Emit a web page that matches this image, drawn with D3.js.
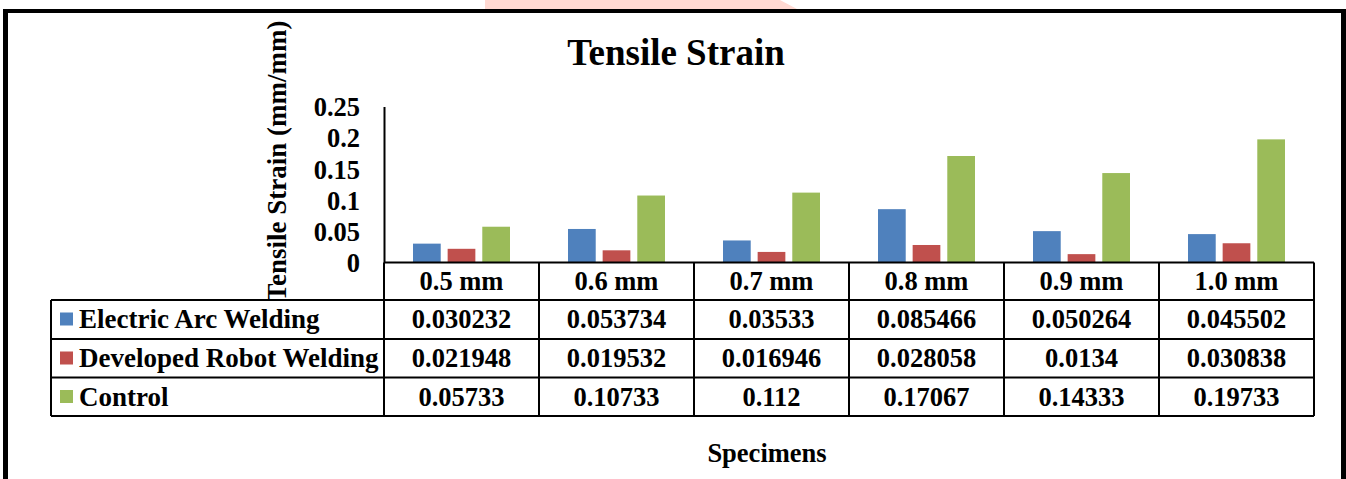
<!DOCTYPE html>
<html>
<head>
<meta charset="utf-8">
<script src="https://cdn.jsdelivr.net/npm/d3@7"></script>
<style>
  body { margin: 0; background: #fff; }
  text { font-family: "Liberation Serif", "Times New Roman", serif; font-weight: bold; fill: #000; }
</style>
</head>
<body>
<div id="chart"></div>
<script>
////////////////////////////////////////////////////////////////////////////////////////
// Data
var categories = ["0.5 mm", "0.6 mm", "0.7 mm", "0.8 mm", "0.9 mm", "1.0 mm"];
var seriesNames = ["Electric Arc Welding", "Developed Robot Welding", "Control"];
var arcValues = [0.030232, 0.053734, 0.03533, 0.085466, 0.050264, 0.045502];
var robotValues = [0.021948, 0.019532, 0.016946, 0.028058, 0.0134, 0.030838];
var controlValues = [0.05733, 0.10733, 0.112, 0.17067, 0.14333, 0.19733];
var tickValues = [0, 0.05, 0.1, 0.15, 0.2, 0.25];
var colors = ["#4f81bd", "#c0504d", "#9bbb59"];

var seriesValues = [arcValues, robotValues, controlValues];

////////////////////////////////////////////////////////////////////////////////////////
// Canvas
var svgWidth = 1346;
var svgHeight = 479;

var svg = d3.select("#chart").append("svg")
    .attr("width", svgWidth)
    .attr("height", svgHeight);

// watermark blob peeking over the top frame
svg.append("path")
    .attr("d", "M485,0 L780,0 L797,9 L485,9 Z")
    .attr("fill", "#ffd9d2");

// outer frame (bottom edge falls off the picture)
svg.append("line").attr("x1", 3).attr("x2", 1346).attr("y1", 11).attr("y2", 11)
    .attr("stroke", "#000").attr("stroke-width", 4);
svg.append("line").attr("x1", 5.5).attr("x2", 5.5).attr("y1", 9).attr("y2", 479)
    .attr("stroke", "#000").attr("stroke-width", 5);
svg.append("line").attr("x1", 1343.5).attr("x2", 1343.5).attr("y1", 9).attr("y2", 479)
    .attr("stroke", "#000").attr("stroke-width", 5);

////////////////////////////////////////////////////////////////////////////////////////
// Scales
var plotLeft = 384, plotRight = 1314;
var plotTop = 106.5, plotBottom = 262.5;

var x = d3.scaleBand().domain(categories).range([plotLeft, plotRight]);
var x1 = d3.scaleBand().domain(seriesNames)
    .range([29, x.bandwidth() - 29])
    .paddingInner(0.2);
var y = d3.scaleLinear().domain([0, 0.25]).range([plotBottom, plotTop]);

// Title
svg.append("text")
    .attr("x", 676).attr("y", 65)
    .attr("text-anchor", "middle")
    .style("font-size", "37px")
    .text("Tensile Strain");

// Y axis
var yAxis = svg.append("g")
    .attr("transform", "translate(" + plotLeft + ",0)")
    .call(d3.axisLeft(y).tickValues(tickValues).tickSize(0).tickPadding(24)
        .tickFormat(function(d){ return String(+d.toFixed(2)); }));
yAxis.select(".domain").attr("stroke", "#000").attr("stroke-width", 2);
yAxis.selectAll("text")
    .style("font-size", "26.5px")
    .attr("font-family", null)
    .attr("dy", "0.35em");

svg.append("text")
    .attr("transform", "translate(286,161) rotate(-90)")
    .attr("text-anchor", "middle")
    .style("font-size", "27px")
    .text("Tensile Strain (mm/mm)");

// Bars
var groups = svg.selectAll(".cat")
    .data(categories)
    .enter().append("g")
    .attr("class", "cat")
    .attr("transform", function(d){ return "translate(" + x(d) + ",0)"; });

groups.selectAll("rect")
    .data(function(d, i){ return seriesNames.map(function(s, j){ return {s: s, v: seriesValues[j][i], c: colors[j]}; }); })
    .enter().append("rect")
    .attr("x", function(d){ return x1(d.s); })
    .attr("width", x1.bandwidth())
    .attr("y", function(d){ return y(d.v); })
    .attr("height", function(d){ return y(0) - y(d.v); })
    .attr("fill", function(d){ return d.c; });

////////////////////////////////////////////////////////////////////////////////////////
// Data table
var tableLeft = 51;
var rowTops = [plotBottom, 300, 339, 377.5, 416];
var lineStyle = function(sel){ sel.attr("stroke", "#000").attr("stroke-width", 2); };

// horizontal lines
rowTops.forEach(function(ry, i){
    svg.append("line")
        .attr("x1", i == 0 ? plotLeft : tableLeft).attr("x2", plotRight)
        .attr("y1", ry).attr("y2", ry)
        .call(lineStyle);
});
// vertical lines
svg.append("line").attr("x1", tableLeft).attr("x2", tableLeft)
    .attr("y1", rowTops[1]).attr("y2", rowTops[4]).call(lineStyle);
categories.concat(["end"]).forEach(function(c, i){
    var vx = i < categories.length ? x(c) : plotRight;
    svg.append("line").attr("x1", vx).attr("x2", vx)
        .attr("y1", rowTops[0]).attr("y2", rowTops[4]).call(lineStyle);
});

// header labels
svg.selectAll(".catLabel")
    .data(categories)
    .enter().append("text")
    .attr("class", "catLabel")
    .attr("x", function(d){ return x(d) + x.bandwidth() / 2; })
    .attr("y", 290)
    .attr("text-anchor", "middle")
    .style("font-size", "26.5px")
    .text(function(d){ return d; });

// series rows
seriesNames.forEach(function(s, j){
    var top = rowTops[j + 1];
    var base = top + 28;
    svg.append("rect")
        .attr("x", 60).attr("y", top + 12.5)
        .attr("width", 13).attr("height", 13)
        .attr("fill", colors[j]);
    svg.append("text")
        .attr("x", 79).attr("y", base)
        .style("font-size", "27px")
        .text(s);
    svg.selectAll(".val" + j)
        .data(seriesValues[j])
        .enter().append("text")
        .attr("x", function(d, i){ return x(categories[i]) + x.bandwidth() / 2; })
        .attr("y", base)
        .attr("text-anchor", "middle")
        .style("font-size", "26.5px")
        .text(function(d){ return String(d); });
});

// X axis title
svg.append("text")
    .attr("x", 767).attr("y", 462)
    .attr("text-anchor", "middle")
    .style("font-size", "26.5px")
    .text("Specimens");
</script>
</body>
</html>
